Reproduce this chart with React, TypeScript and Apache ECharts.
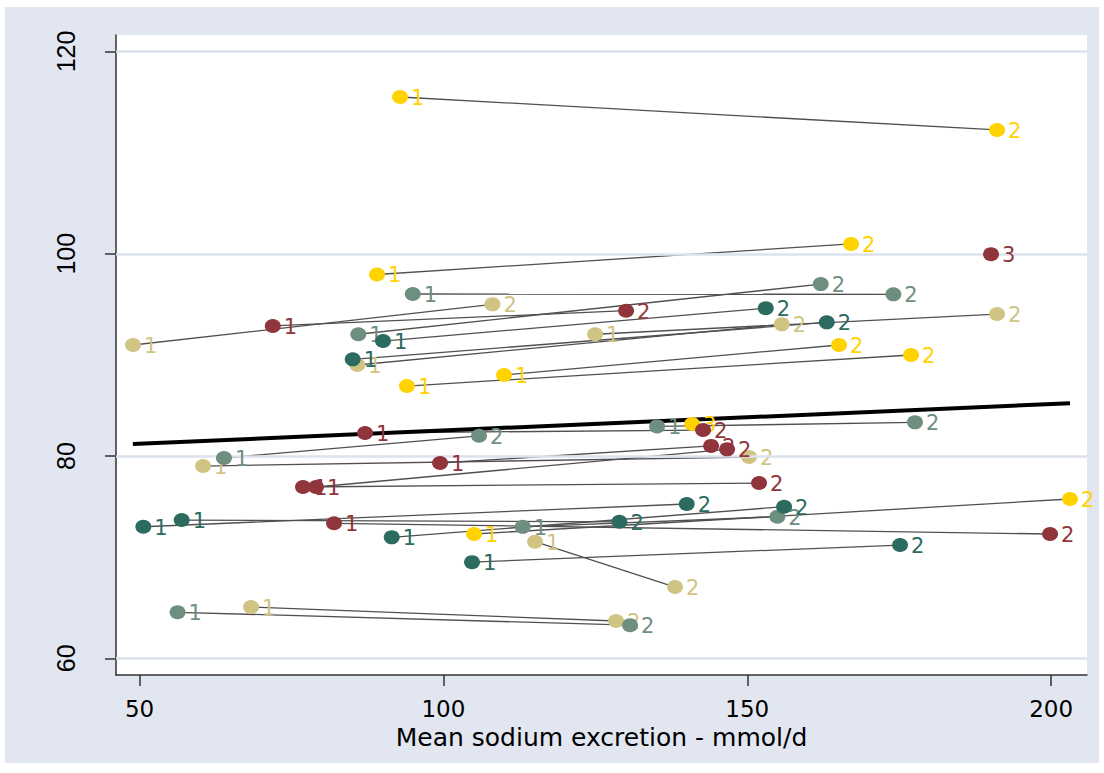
import React, { useEffect, useRef } from "react";
import * as echarts from "echarts";

const xTicks = [50, 100, 150, 200];
const yTicks = [60, 80, 100, 120];
const xTitle = "Mean sodium excretion - mmol/d";

// each pair: [x1, y1, x2, y2] (visit 1 -> visit 2)
const khakiPairs = [
  [48.93, 90.98, 108.06, 95.0],
  [85.84, 89.0, 155.68, 93.02],
  [124.96, 92.04, 191.1, 94.04],
  [60.45, 79.01, 150.3, 79.9],
  [115.08, 71.53, 138.12, 67.05],
  [68.35, 65.07, 128.41, 63.69],
];
const grayPairs = [
  [94.96, 96.02, 174.04, 95.99],
  [86.0, 92.04, 162.09, 97.0],
  [63.9, 79.8, 105.86, 82.0],
  [135.16, 82.93, 177.6, 83.33],
  [113.06, 73.0, 154.95, 74.0],
  [56.26, 64.55, 130.71, 63.28],
];
const tealPairs = [
  [90.07, 91.37, 153.04, 94.61],
  [85.08, 89.56, 163.08, 93.22],
  [50.63, 73.01, 140.04, 75.26],
  [56.94, 73.67, 128.96, 73.5],
  [91.5, 71.96, 156.06, 74.99],
  [104.71, 69.51, 175.14, 71.2],
];
const yellowPairs = [
  [92.87, 115.5, 191.1, 112.24],
  [89.08, 97.95, 167.08, 100.97],
  [94.0, 86.92, 176.96, 89.99],
  [109.98, 88.01, 165.1, 90.98],
  [105.04, 72.29, 203.1, 75.75],
];
const redPairs = [
  [71.92, 92.86, 130.06, 94.37],
  [87.11, 82.28, 142.73, 82.57],
  [99.45, 79.31, 144.05, 81.0],
  [79.04, 76.94, 146.68, 80.66],
  [76.9, 76.94, 151.94, 77.33],
  [82.01, 73.35, 199.82, 72.29],
];
// third visits (not connected)
const yellowThirds = [[140.92, 83.17]];
const redThirds = [[190.11, 99.95]];

// fitted line (ends)
const fitLine = [
  [48.9, 81.19],
  [203.1, 85.22],
];

const groups = [
  { name: "khaki", color: "#D0C482", pairs: khakiPairs, thirds: [] as number[][] },
  { name: "gray", color: "#6E8F80", pairs: grayPairs, thirds: [] as number[][] },
  { name: "teal", color: "#2B6B60", pairs: tealPairs, thirds: [] as number[][] },
  { name: "yellow", color: "#FFD200", pairs: yellowPairs, thirds: yellowThirds },
  { name: "red", color: "#90353B", pairs: redPairs, thirds: redThirds },
];

export default function App() {
  const ref = useRef<HTMLDivElement>(null);

  useEffect(() => {
    if (!ref.current) return;
    const chart = echarts.init(ref.current, null, { renderer: "svg" });

    const allPairs = groups.flatMap((g) => g.pairs);

    const series: any[] = [
      {
        type: "line",
        data: [],
        silent: true,
        z: 1,
        markLine: {
          silent: true,
          symbol: ["none", "none"],
          label: { show: false },
          lineStyle: { color: "#DCE2EE", width: 2.5, type: "solid" },
          data: yTicks.map((v) => ({ yAxis: v })),
        },
      },
      {
        type: "lines",
        coordinateSystem: "cartesian2d",
        silent: true,
        z: 2,
        lineStyle: { color: "#505050", width: 1.3, opacity: 1 },
        data: allPairs.map((p) => ({ coords: [[p[0], p[1]], [p[2], p[3]]] })),
      },
      {
        type: "line",
        data: fitLine,
        symbol: "none",
        silent: true,
        z: 3,
        lineStyle: { color: "#000000", width: 4 },
      },
    ];

    groups.forEach((g, i) => {
      const data: any[] = [];
      g.pairs.forEach((p) => {
        data.push({ name: "1", value: [p[0], p[1]] });
        data.push({ name: "2", value: [p[2], p[3]] });
      });
      g.thirds.forEach((t) => data.push({ name: "3", value: [t[0], t[1]] }));
      series.push({
        type: "scatter",
        name: g.name,
        data,
        z: 4 + i,
        symbol: "circle",
        symbolSize: [16, 14],
        itemStyle: { color: g.color, opacity: 1 },
        label: {
          show: true,
          position: "right",
          distance: 3,
          offset: [0, 1],
          formatter: "{b}",
          color: g.color,
          fontSize: 21,
          fontFamily: "DejaVu Sans",
        },
        emphasis: { disabled: true },
      });
    });

    chart.setOption({
      animation: false,
      backgroundColor: "#E1E6F0",
      grid: {
        left: 111,
        top: 28,
        width: 971,
        height: 640,
        show: true,
        backgroundColor: "#FFFFFF",
        borderWidth: 0,
      },
      xAxis: {
        type: "value",
        min: 46.13,
        max: 205.9,
        name: xTitle,
        nameLocation: "middle",
        nameGap: 40,
        nameTextStyle: { fontSize: 25, fontFamily: "DejaVu Sans", color: "#000" },
        axisLine: { show: true, onZero: false, lineStyle: { color: "#333", width: 1.5 } },
        axisTick: { show: true, length: 11, customValues: xTicks, lineStyle: { color: "#333", width: 1.5 } },
        axisLabel: {
          customValues: xTicks,
          margin: 22,
          fontSize: 23,
          fontFamily: "DejaVu Sans",
          color: "#000",
        },
        splitLine: { show: false },
      },
      yAxis: {
        type: "value",
        min: 58.35,
        max: 121.63,
        axisLine: { show: true, onZero: false, lineStyle: { color: "#333", width: 1.5 } },
        axisTick: { show: true, length: 11, customValues: yTicks, lineStyle: { color: "#333", width: 1.5 } },
        axisLabel: {
          customValues: yTicks,
          rotate: 90,
          margin: 38,
          fontSize: 25,
          fontFamily: "Liberation Sans",
          color: "#000",
        },
        splitLine: { show: false },
      },
      series,
    });

    return () => chart.dispose();
  }, []);

  return (
    <div style={{ position: "absolute", left: 0, top: 0, width: 1104, height: 773, background: "#FFFFFF" }}>
      <div ref={ref} style={{ position: "absolute", left: 5, top: 7, width: 1094, height: 756 }} />
    </div>
  );
}
